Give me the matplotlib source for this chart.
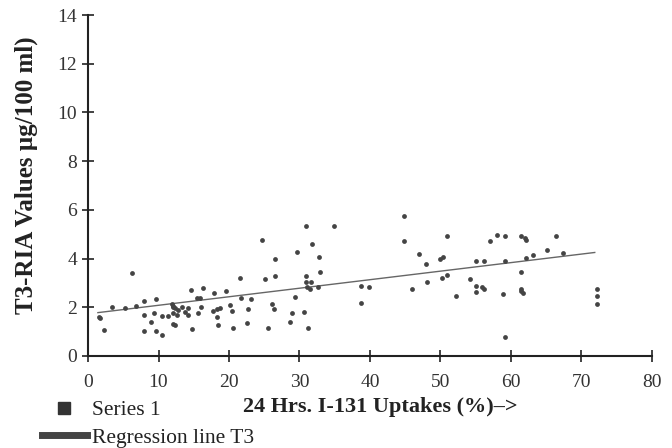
import numpy as np
import matplotlib
matplotlib.use("Agg")
import matplotlib.pyplot as plt
from matplotlib.lines import Line2D

# values
uptake = [6.2, 1.7, 1.5, 2.2, 3.4, 5.3, 6.8, 8.0, 9.7, 8.0, 9.3, 10.5, 11.3, 9.0,
          8.0, 9.6, 10.5, 12.1, 12.1,
          21.5, 14.6, 16.3, 15.4, 15.9, 17.9, 19.6, 21.7, 23.1, 12.1, 11.9, 12.3,
          12.8, 13.3, 12.1, 12.6, 13.8, 14.2, 14.2, 15.6, 16.1, 17.7, 18.3, 18.7,
          20.2, 20.4, 18.3, 22.7, 12.3, 18.5, 22.6, 14.7, 20.6,
          30.9, 34.9, 24.7, 29.6, 31.8, 26.6, 32.8, 25.1, 26.6, 30.9, 32.9, 30.9,
          31.6, 31.0, 31.5, 32.7, 29.3, 26.1, 26.4, 28.9, 30.7, 28.7, 25.5, 31.2,
          44.8, 44.8, 46.9, 48.0, 48.1, 45.9, 38.8, 39.9, 38.8,
          51.0, 49.9, 50.3, 50.2, 51.0, 52.2, 54.2, 55.1, 56.2, 55.1, 55.9, 55.1,
          56.2, 57.0, 58.1, 59.2, 59.2, 58.9, 59.1,
          61.5, 62.0, 62.1, 66.4, 65.1, 63.1, 62.1, 67.4, 61.4, 61.5, 61.5, 61.7,
          72.2, 72.2, 72.2]
t3 = [3.39, 1.54, 1.59, 1.07, 2.0, 1.95, 2.05, 2.27, 2.34, 1.67, 1.75, 1.65, 1.64, 1.38,
      1.02, 1.04, 0.87, 2.02, 1.31,
      3.22, 2.7, 2.79, 2.39, 2.4, 2.57, 2.66, 2.38, 2.35, 2.05, 2.13, 1.95,
      1.89, 2.02, 1.75, 1.68, 1.82, 1.95, 1.68, 1.75, 2.0, 1.86, 1.91, 1.98,
      2.1, 1.84, 1.59, 1.91, 1.27, 1.27, 1.34, 1.09, 1.13,
      5.33, 5.33, 4.75, 4.27, 4.58, 3.98, 4.07, 3.17, 3.29, 3.28, 3.46, 3.02,
      3.02, 2.82, 2.77, 2.82, 2.43, 2.12, 1.91, 1.75, 1.82, 1.38, 1.16, 1.13,
      5.74, 4.73, 4.18, 3.77, 3.03, 2.73, 2.87, 2.82, 2.18,
      4.92, 3.99, 4.05, 3.22, 3.33, 2.46, 3.16, 3.89, 3.89, 2.87, 2.82, 2.64,
      2.73, 4.73, 4.96, 4.92, 3.89, 2.53, 0.79,
      4.92, 4.86, 4.78, 4.92, 4.34, 4.14, 4.04, 4.21, 3.44, 2.77, 2.68, 2.57,
      2.77, 2.47, 2.13]

# regression line end points
reg_x = [1.4, 71.9]
reg_y = [1.78, 4.25]

plt.rcParams['font.family'] = ['Liberation Serif', 'DejaVu Serif']

fig = plt.figure(figsize=(6.72, 4.48), dpi=100)
ax = fig.add_axes([0.131, 0.2054, 0.839, 0.7611])

ax.scatter(uptake, t3, s=12, color='#444444', marker='o', linewidths=0, zorder=3)
ax.plot(reg_x, reg_y, color='#666666', lw=1.0, zorder=2)

ax.set_xlim(0, 80)
ax.set_ylim(0, 14)
ax.set_xticks(np.arange(0, 81, 10))
ax.set_yticks(np.arange(0, 15, 2))
for s in ['top', 'right']:
    ax.spines[s].set_visible(False)
for s in ['left', 'bottom']:
    ax.spines[s].set_linewidth(1.5)
    ax.spines[s].set_color('#222222')
ax.tick_params(direction='inout', length=8, width=1.2, color='#222222',
               labelsize=14, labelcolor='#333333', pad=4)
ax.tick_params(axis='x', pad=9)

ax.set_xlabel('24 Hrs. I-131 Uptakes (%)–>', fontsize=16, fontweight='bold', color='#222222')
ax.xaxis.set_label_coords(0.518, -0.12)
ax.set_ylabel('T3-RIA Values µg/100 ml)', fontsize=18, fontweight='bold', color='#222222')
ax.yaxis.set_label_coords(-0.089, 0.531)

handles = [Line2D([], [], ls='', marker='s', markersize=8, color='#333333'),
           Line2D([], [], color='#444444', lw=5)]
fig.legend(handles, ['Series 1', 'Regression line T3'], loc='upper left',
           bbox_to_anchor=(0.062, 0.107), frameon=False, fontsize=15.5,
           handlelength=2.1, handletextpad=0.25, labelspacing=0.35,
           borderaxespad=0, borderpad=0, labelcolor='#222222')

fig.savefig('out.png', dpi=100)
